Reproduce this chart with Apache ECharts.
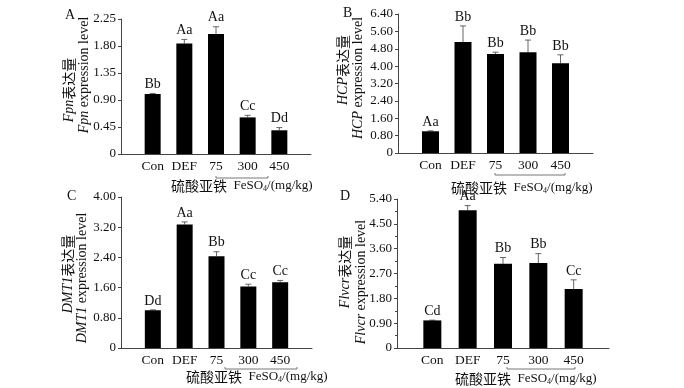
<!DOCTYPE html>
<html><head><meta charset="utf-8">
<script src="https://cdn.jsdelivr.net/npm/echarts@6/dist/echarts.min.js"></script>
<style>html,body{margin:0;padding:0;background:#fff}#c{width:684px;height:388px}</style>
</head><body><div id="c"></div>
<script>
const categories = ['Con', 'DEF', '75', '300', '450'];
const fpnMean = [1.00, 1.84, 2.00, 0.61, 0.395];
const fpnErr = [0.01, 0.07, 0.12, 0.035, 0.045];
const fpnLabels = ['Bb', 'Aa', 'Aa', 'Cc', 'Dd'];
const hcpMean = [1.00, 5.11, 4.56, 4.64, 4.13];
const hcpErr = [0.02, 0.74, 0.08, 0.56, 0.39];
const hcpLabels = ['Aa', 'Bb', 'Bb', 'Bb', 'Bb'];
const dmt1Mean = [1.00, 3.27, 2.43, 1.63, 1.74];
const dmt1Err = [0.01, 0.07, 0.12, 0.06, 0.05];
const dmt1Labels = ['Dd', 'Aa', 'Bb', 'Cc', 'Cc'];
const flvcrMean = [1.00, 4.99, 3.05, 3.08, 2.14];
const flvcrErr = [0.01, 0.17, 0.23, 0.34, 0.33];
const flvcrLabels = ['Cd', 'Aa', 'Bb', 'Bb', 'Cc'];
const yMax = [2.25, 6.4, 4.0, 5.4];
const yInterval = [0.45, 0.8, 0.8, 0.9];
const geneNames = ['Fpn', 'HCP', 'DMT1', 'Flvcr'];
const panelLetters = ['A', 'B', 'C', 'D'];

const means = [fpnMean, hcpMean, dmt1Mean, flvcrMean];
const errs = [fpnErr, hcpErr, dmt1Err, flvcrErr];
const labelSets = [fpnLabels, hcpLabels, dmt1Labels, flvcrLabels];
const axisCats = [''].concat(categories, ['']);

const SERIF = '"Liberation Serif", "Times New Roman", serif';
const CJK = '"Noto Sans CJK SC", sans-serif';
const grids = [
  {left: 121, top: 19, width: 190, height: 135},
  {left: 398, top: 14, width: 195, height: 139},
  {left: 121, top: 197, width: 191, height: 151},
  {left: 397, top: 199, width: 212, height: 149}
];
const barW = [16, 17, 16, 18];

const xAxes = [], yAxes = [], series = [];
for (let i = 0; i < 4; i++) {
  xAxes.push({
    type: 'category', gridIndex: i, data: axisCats, boundaryGap: false,
    axisTick: {show: false},
    axisLine: {lineStyle: {color: '#444', width: 1}},
    axisLabel: {interval: 0, color: '#111', fontFamily: SERIF, fontSize: 13.5, margin: 5}
  });
  yAxes.push({
    type: 'value', gridIndex: i, min: 0, max: yMax[i], interval: yInterval[i],
    splitLine: {show: false},
    axisLine: {show: true, lineStyle: {color: '#444', width: 1}},
    axisTick: {show: true, length: 3, lineStyle: {color: '#444'}},
    minorTick: {show: i === 3, splitNumber: 2, length: 2, lineStyle: {color: '#444'}},
    axisLabel: {color: '#111', fontFamily: SERIF, fontSize: 13, margin: 5,
      formatter: v => v === 0 ? '0' : v.toFixed(2)}
  });
  series.push({
    type: 'bar', xAxisIndex: i, yAxisIndex: i, barWidth: barW[i],
    itemStyle: {color: '#000'}, silent: true,
    data: ['-'].concat(means[i], ['-'])
  });
  const labs = labelSets[i];
  series.push({
    type: 'custom', xAxisIndex: i, yAxisIndex: i, silent: true, clip: false,
    data: means[i].map((m, j) => [j + 1, m, errs[i][j]]),
    renderItem: function (params, api) {
      const x = api.value(0), m = api.value(1), e = api.value(2);
      const b = api.coord([x, m]);
      const t = api.coord([x, m + e]);
      return {
        type: 'group', children: [
          {type: 'line', shape: {x1: b[0], y1: b[1], x2: t[0], y2: t[1]}, style: {stroke: '#666', lineWidth: 1}},
          {type: 'line', shape: {x1: t[0] - 3, y1: t[1], x2: t[0] + 3, y2: t[1]}, style: {stroke: '#666', lineWidth: 1}},
          {type: 'text', style: {text: labs[params.dataIndex], x: t[0], y: t[1] - 2, align: 'center', verticalAlign: 'bottom', font: '14px ' + SERIF, fill: '#111'}}
        ]
      };
    }
  });
}

const graphic = [];
const letterPos = [[65, 8], [343, 6], [67, 189], [340, 189]];
const namePos = [
  [[69, 90], [84, 75]],
  [[343, 70], [358, 78]],
  [[68, 274], [82, 278]],
  [[345, 272], [361, 282]]
];
const unitPos = [[171, 186], [451, 188], [186, 377], [455, 379]];
const bracket = [[216, 268, 178], [495, 565, 175], [225, 297, 369], [507, 575, 369]];
for (let i = 0; i < 4; i++) {
  graphic.push({type: 'text', left: letterPos[i][0], top: letterPos[i][1],
    style: {text: panelLetters[i], font: '14px ' + SERIF, fill: '#111'}});
  graphic.push({type: 'text', x: namePos[i][0][0], y: namePos[i][0][1], rotation: Math.PI / 2,
    style: {text: '{i|' + geneNames[i] + '}{c|表达量}', align: 'center', verticalAlign: 'middle',
      rich: {i: {fontFamily: SERIF, fontStyle: 'italic', fontSize: 14, fill: '#111'},
             c: {fontFamily: CJK, fontSize: 14, fill: '#111'}}}});
  graphic.push({type: 'text', x: namePos[i][1][0], y: namePos[i][1][1], rotation: Math.PI / 2,
    style: {text: '{i|' + geneNames[i] + '}{n| expression level}', align: 'center', verticalAlign: 'middle',
      rich: {i: {fontFamily: SERIF, fontStyle: 'italic', fontSize: 14, fill: '#111'},
             n: {fontFamily: SERIF, fontSize: 14, fill: '#111'}}}});
  graphic.push({type: 'text', x: unitPos[i][0], y: unitPos[i][1],
    style: {text: '{c|硫酸亚铁}{n|  FeSO}{s|4}{n|/(mg/kg)}', align: 'left', verticalAlign: 'middle',
      rich: {c: {fontFamily: CJK, fontSize: 14, fill: '#111'},
             n: {fontFamily: SERIF, fontSize: 13, fill: '#111'},
             s: {fontFamily: SERIF, fontSize: 8, fill: '#111', verticalAlign: 'bottom', padding: [6, 0, 0, 0]}}}});
  const br = bracket[i];
  graphic.push({type: 'polyline', shape: {points: [[br[0], br[2] - 2], [br[0], br[2]], [br[1], br[2]], [br[1], br[2] - 2]]},
    style: {stroke: '#777', lineWidth: 1, fill: null}});
}

const chart = echarts.init(document.getElementById('c'), null, {renderer: 'canvas'});
chart.setOption({
  animation: false, backgroundColor: '#fff',
  grid: grids, xAxis: xAxes, yAxis: yAxes, series: series, graphic: graphic
});
</script></body></html>
